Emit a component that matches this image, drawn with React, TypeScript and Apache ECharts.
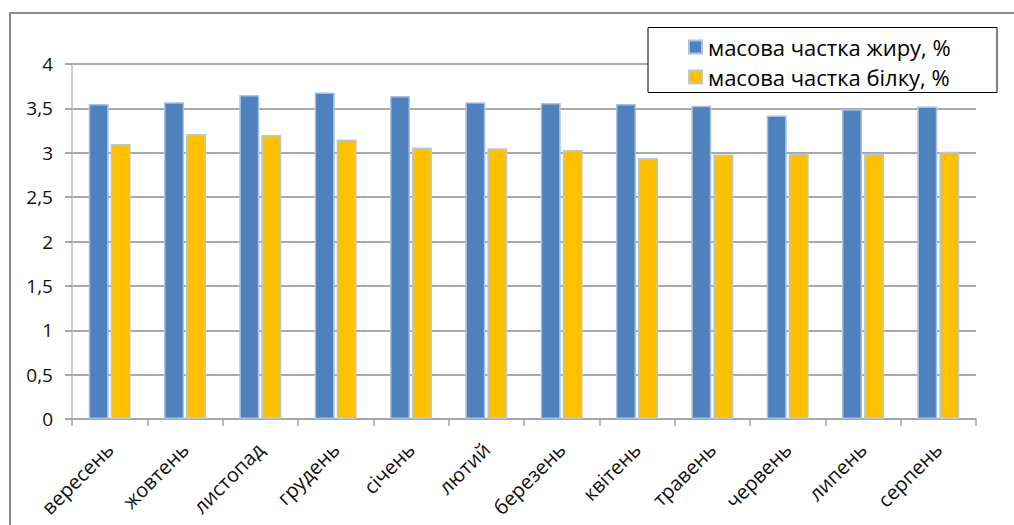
import React, { useEffect, useRef } from "react";
import * as echarts from "echarts";

// Місяці сезону (вересень–серпень)
const months = [
  "вересень",
  "жовтень",
  "листопад",
  "грудень",
  "січень",
  "лютий",
  "березень",
  "квітень",
  "травень",
  "червень",
  "липень",
  "серпень",
];

// Масова частка жиру, %
const fatShare = [3.55, 3.57, 3.65, 3.68, 3.64, 3.57, 3.56, 3.55, 3.53, 3.42, 3.49, 3.52];

// Масова частка білку, %
const proteinShare = [3.1, 3.21, 3.2, 3.15, 3.06, 3.05, 3.03, 2.94, 2.98, 2.99, 2.99, 3.01];

const seriesNames = ["масова частка жиру, %", "масова частка білку, %"];

const FONT = "'Open Sans', 'Noto Sans', sans-serif";

export default function App() {
  const ref = useRef<HTMLDivElement>(null);

  useEffect(() => {
    if (!ref.current) return;
    const chart = echarts.init(ref.current, undefined, { renderer: "svg" });
    chart.setOption({
      animation: false,
      backgroundColor: "#ffffff",
      grid: { left: 72, right: 38, top: 64, bottom: 106, containLabel: false },
      graphic: [
        // outer frame (top and left edges)
        {
          type: "polyline",
          shape: { points: [[10, 560], [10, 13], [1030, 13]] },
          style: { stroke: "#8a8a8a", lineWidth: 2, fill: null },
          silent: true,
        },
        // legend box
        {
          type: "rect",
          shape: { x: 648, y: 27.5, width: 349, height: 65 },
          style: { stroke: "#000000", lineWidth: 1, fill: "#ffffff" },
          z: 5,
          silent: true,
        },
      ],
      legend: {
        orient: "vertical",
        left: 683,
        top: 30,
        itemWidth: 13,
        itemHeight: 13,
        itemGap: 6,
        icon: "rect",
        z: 10,
        textStyle: {
          fontFamily: FONT,
          fontSize: 22,
          lineHeight: 24,
          color: "#000000",
          padding: [0, 0, 0, 1],
        },
        data: seriesNames,
      },
      xAxis: {
        type: "category",
        data: months,
        axisLine: { lineStyle: { color: "#a6a6a6", width: 1.5 } },
        axisTick: { show: true, length: 7, lineStyle: { color: "#a6a6a6", width: 1.5 } },
        axisLabel: {
          rotate: 45,
          margin: 27,
          interval: 0,
          fontFamily: FONT,
          fontSize: 20,
          color: "#111111",
        },
      },
      yAxis: {
        type: "value",
        min: 0,
        max: 4,
        interval: 0.5,
        axisLine: { show: true, lineStyle: { color: "#bfbfbf", width: 1.5 } },
        axisTick: { show: true, length: 7, lineStyle: { color: "#8c8c8c", width: 1.5 } },
        splitLine: { lineStyle: { color: "#8c8c8c", width: 1.5 } },
        axisLabel: {
          margin: 19,
          fontFamily: FONT,
          fontSize: 19,
          color: "#111111",
          formatter: (v: number) => String(v).replace(".", ","),
        },
      },
      series: [
        {
          name: seriesNames[0],
          type: "bar",
          data: fatShare,
          barWidth: 20,
          barGap: "10%",
          itemStyle: { color: "#4f81bd", borderColor: "#a9c0df", borderWidth: 1.5 },
        },
        {
          name: seriesNames[1],
          type: "bar",
          data: proteinShare,
          barWidth: 20,
          itemStyle: { color: "#ffc000", borderColor: "#b4c8e4", borderWidth: 1.5 },
        },
      ],
    });
    return () => chart.dispose();
  }, []);

  return (
    <div
      ref={ref}
      style={{ position: "fixed", left: 0, top: 0, width: 1014, height: 525, background: "#fff" }}
    />
  );
}
